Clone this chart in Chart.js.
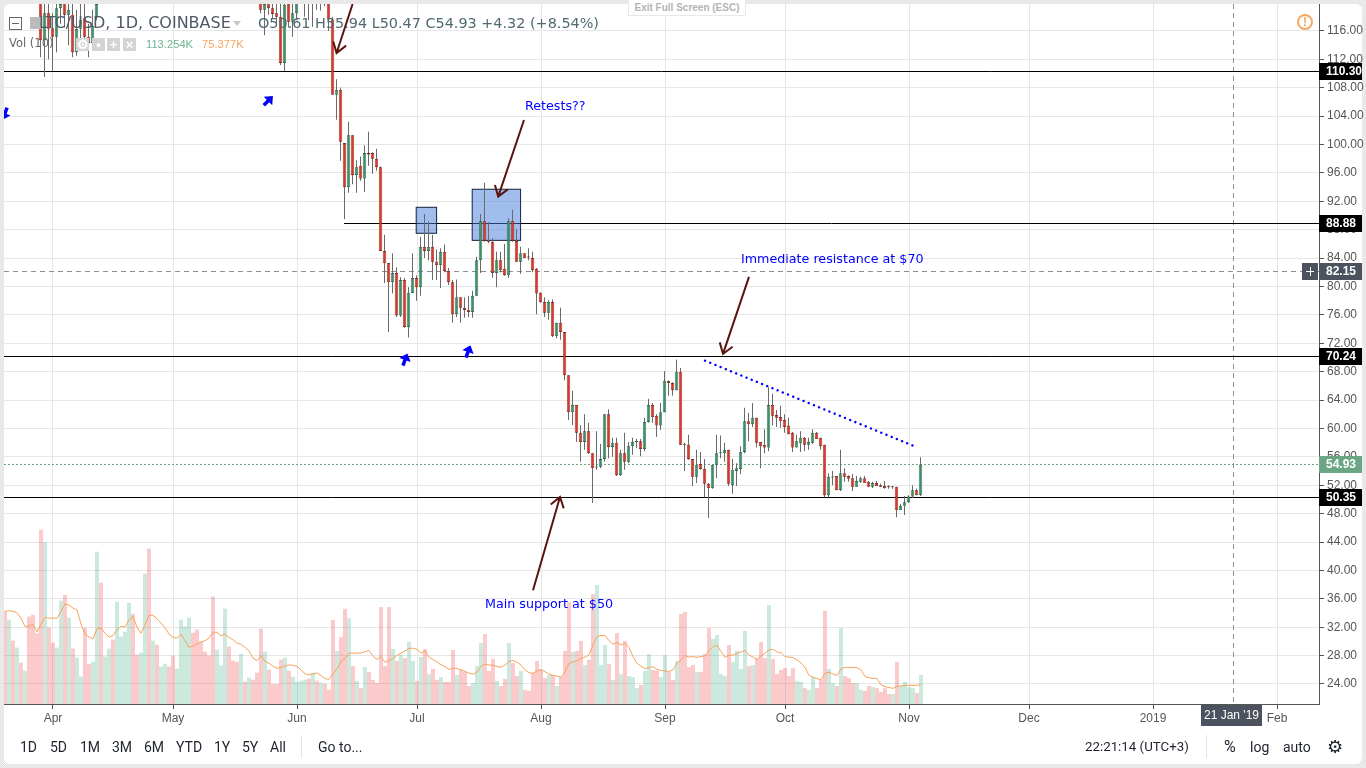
<!DOCTYPE html>
<html>
<head>
<meta charset="utf-8">
<title>LTC/USD, 1D, COINBASE</title>
<script src="https://cdn.jsdelivr.net/npm/chart.js@4"></script>
<style>
html, body { margin: 0; padding: 0; width: 1366px; height: 768px; overflow: hidden; }
body { background: repeating-conic-gradient(#e2e2e2 0 25%, #f0f0f0 0 50%) 0 0 / 2px 2px; position: relative; font-family: "DejaVu Sans", sans-serif; }
#panel { position: absolute; left: 4px; top: 4px; width: 1358px; height: 760px; background: #fff; border-radius: 6px; }
#myChart { position: absolute; left: 0; top: 0; }
.t { position: absolute; white-space: nowrap; line-height: 1; }
.bar { font-family: "Roboto", sans-serif; font-size: 14px; color: #1e222d; top: 740px; }
.sq { position: absolute; top: 38px; width: 13px; height: 13px; background: #d4d4d4; color: #fff; font: bold 13px/13px "Liberation Sans"; text-align: center; }
.sep { position: absolute; top: 735px; width: 1px; height: 23px; background: #e4e4e4; }
</style>
</head>
<body>
<div id="panel"></div>
<canvas id="myChart" width="1366" height="768"></canvas>

<div style="position:absolute;left:9px;top:17px;width:11px;height:11px;border:1px solid #666;"><div style="margin:5px 2px 0;height:1px;background:#666;"></div></div>
<div style="position:absolute;left:30px;top:17px;width:11px;height:12px;background:#bbb;"></div>
<div class="t" style="left:39px;top:15px;font-size:16px;color:#4f5966;">LTC/USD, 1D, COINBASE</div>
<div class="t" style="left:233px;top:21px;width:0;height:0;border:4px solid transparent;border-top:5px solid #c8c8c8;"></div>
<div class="t" id="ohlc" style="left:258px;top:16px;font-size:14.4px;color:#4f6b70;">O50.61 H55.94 L50.47 C54.93 +4.32 (+8.54%)</div>
<div class="t" style="left:9px;top:38px;font-size:11.5px;color:#666;">Vol (10)</div>
<div class="sq" style="left:76px;">&#9881;</div>
<div class="sq" style="left:92px;">&#8226;</div>
<div class="sq" style="left:107px;">+</div>
<div class="sq" style="left:123px;">&#215;</div>
<div class="t" id="volNow" style="left:146px;top:38px;font:11.2px 'Liberation Sans';color:#6fb596;">113.254K</div>
<div class="t" id="volMa" style="left:202px;top:38px;font:11.2px 'Liberation Sans';color:#f5a55f;">75.377K</div>
<div class="t" style="left:628px;top:0;width:116px;height:15px;line-height:15px;text-align:center;font:bold 10px/15px 'Liberation Sans';color:#b5b5b5;background:#fff;border:1px solid #e8e8e8;border-top:0;">Exit Full Screen (ESC)</div>
<div class="t" style="left:1297px;top:14px;width:12px;height:12px;border:2px solid #f6a864;border-radius:50%;text-align:center;font:bold 12px/12px 'Liberation Sans';color:#f6a864;">!</div>

<div class="t bar" style="left:20px;">1D</div>
<div class="t bar" style="left:50px;">5D</div>
<div class="t bar" style="left:80px;">1M</div>
<div class="t bar" style="left:112px;">3M</div>
<div class="t bar" style="left:144px;">6M</div>
<div class="t bar" style="left:176px;">YTD</div>
<div class="t bar" style="left:214px;">1Y</div>
<div class="t bar" style="left:242px;">5Y</div>
<div class="t bar" style="left:270px;">All</div>
<div class="sep" style="left:301px;"></div>
<div class="t bar" style="left:318px;">Go to...</div>
<div class="t bar" style="left:1085px;font-size:13.3px;">22:21:14 (UTC+3)</div>
<div class="sep" style="left:1206px;"></div>
<div class="t bar" style="left:1224px;font-size:16px;top:739px;">%</div>
<div class="t bar" style="left:1250px;">log</div>
<div class="t bar" style="left:1283px;">auto</div>
<div class="t" style="left:1327px;top:737px;font:18px/20px 'DejaVu Sans';color:#1e222d;">&#9881;</div>

<script>
// day 0 is 1 Apr 2018, first candle is 12 days earlier
var firstDay = -12;
// candles sit half a pixel left of the volume bars
var candleShift = -0.125;

// prices above about 120 are off the top of the picture, those are rough guesses
var opens = [
  128,125.5,127,124,127.5,125.5,128,124.5,122.5,122,
  114.7,118.5,116.4,115.2,119.2,121.5,118.3,118.3,113,116.3,
  117.8,115.2,114.3,117.9,124,122,126,130,128,135,
  138,142,149,146,144,148,163,153,157,151,
  154,157,151,147,149,153,155,157,153,149,
  146,143,140,133,136,137,141,138,136,134,
  136,134,135,132,121.5,119,121,119.2,118.5,118,
  111.5,122,117.3,118.5,121,123,125,123,125,123,
  124,122,117.6,107,107.7,100.2,94,101.3,95.7,97,
  95.2,98.8,98.8,98,96.8,85,83.3,80.6,81.9,75.9,
  80.9,74.3,79.1,81.2,79.9,85.6,85,85.6,83.5,83,
  84.9,82.2,80.6,76.1,78.5,77,76.7,76.4,78.7,83.7,
  89.2,86.4,86.3,81.9,83.7,82.5,81.6,89.2,86.4,83.5,
  84.7,84.2,84,82.5,79.1,77.8,76.3,77.8,73,74.9,
  73.6,67.5,62.3,63.3,59.4,58.1,59.6,56.5,54.5,54.6,
  55.7,62,57.4,58,53.4,56.5,55.3,57.5,58.1,58.2,
  57.1,60.9,63.3,61.8,60.4,62.3,66.7,66.4,65.4,68,
  57.8,57.7,55.7,53.2,55,54.3,52.2,51.6,54.9,56.5,
  56.5,57,52,54,54.3,56.7,61,60.6,61.5,58.1,
  57.7,57.3,63.3,61.9,61.6,61.2,60.4,59.4,57.3,57.9,
  58.7,57.7,58,59.4,58.7,57.7,50.6,53.1,53.3,51.3,
  53.7,53.3,53,51.8,52.5,53,52.5,51.8,52.3,52,
  51.9,51.8,51.7,51.8,48.5,49.1,49.6,50.4,51.3,50.61
];
var highs = [
  131,128,129.5,128.5,130,129,129.5,126.5,125,124,
  122,121,118.5,121.5,122,123,121,120.5,119,120,
  120.5,117,119,122,126,127,131,132,136,139,
  143,150,151,148,149,165,175,158,159,155,
  158,158,152,150,154,156,158,158,154,150,
  147,144,141,137,138,142,142,139,137,137,
  137,136,136,133,124,122,123,122,121,120,
  122,124,121,123,125,127,126,127,126,126,
  125,123,118,109.2,108,100.2,103.2,101.3,97.8,98.3,
  99.9,101.8,98.9,99.4,96.9,87.3,83.3,84.7,82.7,81.3,
  81.2,79.9,84.7,81.6,87,90.2,89.2,87.3,85.2,85.4,
  85.9,82.6,80.9,81,78.5,78.5,78.7,79.4,84.2,90.2,
  94.6,89.1,86.8,84.9,84.9,86,89.6,90.8,88.1,85.6,
  84.7,85.4,84.9,82.6,79.2,78.5,78.1,78.2,74.9,77,
  73.6,67.5,65.3,63.3,60.5,62,60.8,56.5,59.6,57.8,
  62,62.7,58.7,58.7,57,59.4,58.1,58.7,58.5,58.5,
  61.5,64.2,63.6,62,63.6,68.1,66.8,66.5,69.7,68.5,
  58,59.1,55.7,57,56.7,55.7,52.3,54.9,59.1,59,
  58,57,55.7,55.1,57.5,62.9,62.2,63.6,61.5,58.1,
  59.9,65.8,64.9,62.6,63.2,62,61.5,59.5,59.1,59.6,
  58.8,58.7,59.9,59.5,58.7,57.7,53.7,54,53.3,57,
  54.4,53.4,53.6,53.3,53.2,53.3,52.6,52.5,52.6,52.2,
  52.6,52,51.9,51.8,49.4,50.5,50.6,52,51.5,55.94
];
var lows = [
  124.5,122,123,122.5,124.5,124,123,121.5,121,112.3,
  109.5,112,110.4,113,117,116.5,114,112.3,112.5,115,
  114.5,112.3,113.5,117.5,121,121,125,127,127,134,
  137,141,145,143,143,147,150,152,150,150,
  153,150,146,146,148,152,154,152,148,145,
  142,139,132,132,135,136,137,135,133,133,
  133,133,131,126,118.5,115.4,118.3,117.7,117,111.2,
  110.4,116.5,115.2,117.5,120,118,117.5,116.6,119,118.9,
  119.5,116,107,103.5,97.7,89.5,93.2,94.4,93.2,94.9,
  93.3,97,95.9,96.3,85,80.5,73.6,79,75.7,75.7,
  74.2,72.8,79.1,78,78.7,84,83.7,80.9,80.9,79.8,
  82,80.2,74.9,75.7,74.9,75.6,75.7,75.6,78.7,81.9,
  86.3,86.1,81.2,79.9,82,81.5,81.2,86.3,83.5,81.8,
  84,83.7,82,76.1,77.7,75.7,75.3,72.9,72.7,72.5,
  66.8,61.2,60.5,58.1,55.3,57,56.4,49.5,54.2,54.4,
  55.3,55.8,56,53.3,53.3,54.2,55.1,56.3,57.2,56.1,
  56.8,60.8,60.8,58.8,59.8,62.3,64.6,64.6,65.4,57.7,
  54,55.6,51.9,52.3,54.2,50.3,47.4,51.5,53,55.8,
  55.3,51.9,50.8,51.9,53.6,56.5,58.2,60.2,57.3,54.4,
  56.5,56.8,60.4,60.2,60.1,59.4,59.2,56.7,57.3,56.7,
  56.8,57,57.8,58.5,57,50.3,50.3,52,51.3,51.2,
  52.5,52.5,51.2,51.8,52.3,52.3,51.8,51.6,51.9,51.8,
  51.5,51.5,51.5,47.5,48.5,47.8,49.5,50.2,50.6,50.47
];
var closes = [
  125.5,127,124,127.5,125.5,128,124.5,122.5,122,114.7,
  118.5,116.3,115.2,119.2,119.8,118.3,119,113,116.3,117.5,
  115.2,114.3,116.7,119.8,122,126,130,128,135,138,
  142,149,146,144,148,163,153,157,151,154,
  157,151,147,149,153,155,157,153,149,146,
  143,140,133,136,137,141,138,136,134,136,
  134,135,132,127,119,119.8,119.2,118.4,118,111.5,
  119.7,117.3,118.5,121,123,125,123,125,123,124,
  122,117.6,107,107.7,100.4,94,101.3,95.7,96.8,95.2,
  98.8,98.6,98,96.8,85,83.3,80.6,81.9,75.9,80.9,
  74.3,79.1,81.2,79.9,85.6,85,85.6,83.5,83,84.9,
  82.2,80.6,76.1,78.5,77,76.7,76.4,78.7,83.7,89.2,
  86.4,86.3,81.9,83.7,82.3,81.6,89.2,86.4,83.5,84.7,
  84,84.1,82.3,79,77.8,76.3,77.8,73,74.9,73.6,
  67.5,62.3,63.3,59.4,58.1,59.6,56.5,54.4,54.6,55.7,
  62,57.4,58,53.4,56.5,55.3,57.5,58.1,58.2,57.1,
  60.9,63.3,61.6,60.4,62.3,66.7,66.4,65.4,68,57.7,
  57.7,55.7,53.2,54.9,54.3,52.2,51.6,54.9,56.5,56.6,
  57,52.2,54.2,54.4,56.7,61,60.6,61.5,58,57.5,
  57.3,63.3,61.8,61.5,61,60.2,59.2,57.3,58.2,58.7,
  57.7,58.1,59.4,58.5,57.5,50.6,53.2,53.2,51.3,53.7,
  53.2,52.9,51.8,52.6,53,52.3,51.8,52.3,51.9,51.8,
  51.6,51.7,51.8,48.5,49.1,49.6,50.4,51.3,50.6,54.93
];
// thousands
var volumes = [
  361,329,247,220,161,130,341,348,276,680,
  631,299,239,220,403,426,337,216,181,107,
  298,157,165,594,473,185,216,251,399,263,
  282,395,352,192,200,508,606,247,231,146,
  157,146,189,138,329,302,337,278,290,243,
  204,189,419,212,150,372,224,169,165,196,
  87,103,95,122,294,204,134,78,78,173,
  181,130,107,87,91,95,99,122,91,83,
  78,56,328,207,261,371,335,148,90,62,
  144,125,94,82,378,148,378,215,168,191,
  179,242,168,90,183,215,117,137,94,105,
  86,86,211,113,133,125,70,82,148,238,
  273,129,176,90,70,98,238,160,109,129,
  55,51,121,168,133,101,113,113,70,105,
  207,398,203,207,246,152,172,429,464,152,
  230,156,94,277,117,246,109,105,62,74,
  129,195,133,129,105,191,125,94,168,351,
  359,144,152,125,125,195,296,254,269,117,
  109,230,164,207,137,285,148,152,176,242,
  179,386,176,117,133,140,109,140,90,86,
  62,55,105,62,94,363,137,81,70,296,
  109,101,82,82,55,51,70,66,62,47,
  62,39,39,164,70,86,66,62,43,113.254
];
var volumeMa = [
  361,364,361,356,335,302,304,311,282,312,
  338,335,335,335,361,390,386,374,367,312,
  273,261,254,293,296,276,261,267,289,303,
  300,328,342,299,276,309,346,346,332,316,
  298,273,260,257,273,247,221,226,234,242,
  247,257,280,280,265,273,260,250,238,233,
  221,207,179,169,189,166,159,147,139,142,
  148,152,151,147,133,118,113,118,121,111,
  99,96,117,137,165,178,198,199,198,199,
  204,209,186,174,185,163,169,178,190,198,
  207,216,218,213,198,207,182,173,164,153,
  146,135,139,139,133,127,120,116,125,146,
  156,152,151,146,143,152,165,170,163,152,
  133,122,120,129,135,126,117,112,109,104,
  126,159,164,169,178,183,191,230,263,267,
  268,247,233,239,230,237,221,185,159,148,
  138,142,146,135,131,129,127,133,159,172,
  189,183,185,182,185,187,208,224,229,204,
  182,190,191,198,203,209,191,183,174,187,
  198,211,213,203,200,185,183,181,172,160,
  143,112,104,99,94,120,124,117,111,137,
  143,143,143,142,133,107,103,100,99,75,
  68,64,61,69,70,73,73,72,73,75.377
];

var priceTicks = [116,112,108,104,100,96,92,88,84,80,76,72,68,64,60,56,52,48,44,40,36,32,28,24];
var monthDays = [0,30,61,91,122,153,183,214,244,275,306];
var monthLabels = ["Apr","May","Jun","Jul","Aug","Sep","Oct","Nov","Dec","2019","Feb"];

// drawings on the chart, [day, price]
var levels = [110.30, 70.24, 50.35];
var partLevel = {from: 72.75, price: 88.88};
var crossPrice = 82.15;
var lastPrice = 54.93;
var crossDay = 295;
var boxes = [[90.8, 91.16, 95.9, 87.5], [104.8, 93.7, 116.9, 86.5]];
var trend = [[163, 69.55], [215.75, 57.4]];
var arrows = [
  [[74.9, 119.8], [70.9, 112.9]],
  [[117.75, 103.46], [111.3, 92.66]],
  [[174, 81.35], [167.5, 70.5]],
  [[120, 37.2], [126.75, 50.35]]
];
var blueArrows = [[53.75, 106.14, 0.78], [88, 69.65, 0.35], [103.75, 70.78, 0.35], [-12, 104.4, 3.5]];
var notes = [
  ["Retests??", 118, 105.35],
  ["Immediate resistance at $70", 172, 83.75],
  ["Main support at $50", 108, 35.15]
];
var tags = [
  ["110.30", 110.30, "#000"],
  ["88.88", 88.88, "#000"],
  ["82.15", 82.15, "#4c525e"],
  ["70.24", 70.24, "#000"],
  ["54.93", 54.93, "#6ba583"],
  ["50.35", 50.35, "#000"]
];

var days = opens.map(function (v, i) { return firstDay + i; });
var isUp = closes.map(function (c, i) { return c >= opens[i]; });

var drawingsPlugin = {
  id: "drawings",
  beforeDatasetsDraw: function (chart) {
    var ctx = chart.ctx, x = chart.scales.x, y = chart.scales.y, a = chart.chartArea;
    ctx.save();
    ctx.beginPath();
    ctx.rect(a.left, a.top, a.width, a.height);
    ctx.clip();

    ctx.strokeStyle = "#8f8f8f";
    ctx.setLineDash([5, 4]);
    ctx.lineWidth = 1;
    ctx.beginPath();
    ctx.moveTo(a.left, Math.round(y.getPixelForValue(crossPrice)) + 0.5);
    ctx.lineTo(a.right, Math.round(y.getPixelForValue(crossPrice)) + 0.5);
    ctx.moveTo(Math.round(x.getPixelForValue(crossDay)) + 0.5, a.top);
    ctx.lineTo(Math.round(x.getPixelForValue(crossDay)) + 0.5, a.bottom);
    ctx.stroke();

    ctx.strokeStyle = "#6ba583";
    ctx.setLineDash([2, 2]);
    ctx.beginPath();
    ctx.moveTo(a.left, Math.round(y.getPixelForValue(lastPrice)) + 0.5);
    ctx.lineTo(a.right, Math.round(y.getPixelForValue(lastPrice)) + 0.5);
    ctx.stroke();
    ctx.setLineDash([]);

    ctx.strokeStyle = "#000";
    levels.forEach(function (p) {
      var py = Math.round(y.getPixelForValue(p)) + 0.5;
      ctx.beginPath();
      ctx.moveTo(a.left, py);
      ctx.lineTo(a.right, py);
      ctx.stroke();
    });
    var py = Math.round(y.getPixelForValue(partLevel.price)) + 0.5;
    ctx.beginPath();
    ctx.moveTo(x.getPixelForValue(partLevel.from), py);
    ctx.lineTo(a.right, py);
    ctx.stroke();

    boxes.forEach(function (b) {
      var l = x.getPixelForValue(b[0]), t = y.getPixelForValue(b[1]);
      var r = x.getPixelForValue(b[2]), u = y.getPixelForValue(b[3]);
      ctx.fillStyle = "rgba(65,123,221,0.5)";
      ctx.fillRect(l, t, r - l, u - t);
      ctx.strokeStyle = "#14233f";
      ctx.strokeRect(l, t, r - l, u - t);
    });
    ctx.restore();
  },
  afterDatasetsDraw: function (chart) {
    var ctx = chart.ctx, x = chart.scales.x, y = chart.scales.y, a = chart.chartArea;
    ctx.save();
    ctx.beginPath();
    ctx.rect(a.left, a.top, a.width, a.height);
    ctx.clip();

    // dotted falling line
    ctx.strokeStyle = "#0000ff";
    ctx.lineWidth = 2.4;
    ctx.lineCap = "round";
    ctx.setLineDash([0.1, 5.5]);
    ctx.beginPath();
    ctx.moveTo(x.getPixelForValue(trend[0][0]), y.getPixelForValue(trend[0][1]));
    ctx.lineTo(x.getPixelForValue(trend[1][0]), y.getPixelForValue(trend[1][1]));
    ctx.stroke();
    ctx.setLineDash([]);
    ctx.lineCap = "butt";

    // brown arrows
    ctx.strokeStyle = "#5a1410";
    ctx.lineWidth = 2;
    arrows.forEach(function (ar) {
      var x0 = x.getPixelForValue(ar[0][0]), y0 = y.getPixelForValue(ar[0][1]);
      var x1 = x.getPixelForValue(ar[1][0]), y1 = y.getPixelForValue(ar[1][1]);
      var ang = Math.atan2(y1 - y0, x1 - x0);
      ctx.beginPath();
      ctx.moveTo(x0, y0);
      ctx.lineTo(x1, y1);
      ctx.moveTo(x1 - 12 * Math.cos(ang - 0.6), y1 - 12 * Math.sin(ang - 0.6));
      ctx.lineTo(x1, y1);
      ctx.lineTo(x1 - 12 * Math.cos(ang + 0.6), y1 - 12 * Math.sin(ang + 0.6));
      ctx.stroke();
    });

    // short thick blue arrows
    ctx.strokeStyle = "#0000ff";
    ctx.fillStyle = "#0000ff";
    blueArrows.forEach(function (b) {
      ctx.save();
      ctx.translate(x.getPixelForValue(b[0]), y.getPixelForValue(b[1]));
      ctx.rotate(b[2]);
      ctx.lineWidth = 3.5;
      ctx.beginPath();
      ctx.moveTo(0, 6);
      ctx.lineTo(0, -1);
      ctx.stroke();
      ctx.beginPath();
      ctx.moveTo(-6, 0);
      ctx.lineTo(0, -7);
      ctx.lineTo(6, 0);
      ctx.closePath();
      ctx.fill();
      ctx.restore();
    });

    ctx.fillStyle = "#0000ff";
    ctx.font = "12.7px 'DejaVu Sans'";
    ctx.textAlign = "left";
    ctx.textBaseline = "middle";
    notes.forEach(function (n) {
      ctx.fillText(n[0], x.getPixelForValue(n[1]), y.getPixelForValue(n[2]));
    });
    ctx.restore();
  },
  afterDraw: function (chart) {
    var ctx = chart.ctx, x = chart.scales.x, y = chart.scales.y, a = chart.chartArea;
    ctx.save();
    ctx.textBaseline = "middle";
    tags.forEach(function (t) {
      var py = Math.round(y.getPixelForValue(t[1]));
      ctx.fillStyle = t[2];
      ctx.fillRect(a.right, py - 8, 43, 17);
      ctx.fillStyle = "#fff";
      ctx.font = "bold 12px 'Liberation Sans'";
      ctx.textAlign = "left";
      ctx.fillText(t[0], a.right + 7, py + 1);
    });
    // plus button next to the cross price
    var cy = Math.round(y.getPixelForValue(crossPrice));
    ctx.fillStyle = "#4c525e";
    ctx.fillRect(a.right - 17, cy - 8, 16, 17);
    ctx.strokeStyle = "#fff";
    ctx.beginPath();
    ctx.moveTo(a.right - 13, cy + 0.5);
    ctx.lineTo(a.right - 5, cy + 0.5);
    ctx.moveTo(a.right - 8.5, cy - 4);
    ctx.lineTo(a.right - 8.5, cy + 5);
    ctx.stroke();
    // date under the cross
    var cx = x.getPixelForValue(crossDay);
    ctx.fillStyle = "#4c525e";
    ctx.fillRect(cx - 32, a.bottom + 1, 61, 21);
    ctx.fillStyle = "#fff";
    ctx.font = "12px 'Liberation Sans'";
    ctx.textAlign = "center";
    ctx.fillText("21 Jan '19", cx - 1.5, a.bottom + 12);
    ctx.restore();
  }
};

new Chart("myChart", {
  type: "bar",
  data: {
    datasets: [
      {
        type: "line",
        data: days.map(function (d, i) { return {x: d, y: volumeMa[i]}; }),
        yAxisID: "v",
        borderColor: "#f5a35c",
        borderWidth: 1,
        pointRadius: 0,
        order: 3
      },
      {
        data: days.map(function (d, i) { return {x: d, y: volumes[i]}; }),
        yAxisID: "v",
        barThickness: 4,
        inflateAmount: 0,
        backgroundColor: isUp.map(function (u) { return u ? "rgba(38,166,111,0.24)" : "rgba(239,83,80,0.3)"; }),
        order: 4
      },
      {
        data: days.map(function (d, i) { return {x: d + candleShift, y: [lows[i], highs[i]]}; }),
        yAxisID: "y",
        barThickness: 1,
        inflateAmount: 0,
        backgroundColor: "#6a6a6a",
        order: 2
      },
      {
        data: days.map(function (d, i) { return {x: d + candleShift, y: [Math.min(opens[i], closes[i]), Math.max(opens[i], closes[i])]}; }),
        yAxisID: "y",
        barThickness: 3.4,
        minBarLength: 1,
        inflateAmount: 0,
        backgroundColor: isUp.map(function (u) { return u ? "#3f9068" : "#d9382a"; }),
        borderColor: isUp.map(function (u) { return u ? "#1b5a3c" : "#6b1a12"; }),
        borderWidth: 0.7,
        borderSkipped: false,
        order: 1
      }
    ]
  },
  plugins: [drawingsPlugin],
  options: {
    responsive: false,
    animation: false,
    parsing: {xAxisKey: "x", yAxisKey: "y"},
    grouped: false,
    layout: {padding: {left: 4, top: 4, right: 0, bottom: 0}},
    plugins: {legend: {display: false}, title: {display: false}, tooltip: {enabled: false}},
    scales: {
      x: {
        type: "linear",
        offset: false,
        min: -12.25,
        max: 316.5,
        afterBuildTicks: function (s) {
          s.ticks = monthDays.map(function (d) { return {value: d}; });
        },
        afterFit: function (s) { s.height = 64; s.paddingLeft = 0; s.paddingRight = 0; },
        grid: {offset: false, color: "#e6e6e6", tickColor: "#555", tickLength: 5},
        border: {color: "#555"},
        ticks: {
          autoSkip: false,
          maxRotation: 0,
          padding: 2,
          color: "#555",
          font: {family: "Liberation Sans", size: 12},
          callback: function (v) { return monthLabels[monthDays.indexOf(v)]; }
        }
      },
      y: {
        type: "linear",
        position: "right",
        min: 21.18,
        max: 119.8,
        afterBuildTicks: function (s) {
          s.ticks = priceTicks.map(function (p) { return {value: p}; });
        },
        afterFit: function (s) { s.width = 47; s.paddingTop = 0; s.paddingBottom = 0; },
        grid: {color: "#e6e6e6", tickColor: "#555", tickLength: 5},
        border: {color: "#555"},
        ticks: {
          autoSkip: false,
          padding: 3,
          crossAlign: "near",
          color: "#555",
          font: {family: "Liberation Sans", size: 12},
          callback: function (v) { return v.toFixed(2); }
        }
      },
      v: {
        type: "linear",
        display: false,
        min: 0,
        max: 2730,
        grid: {display: false}
      }
    }
  }
});
</script>
</body>
</html>
